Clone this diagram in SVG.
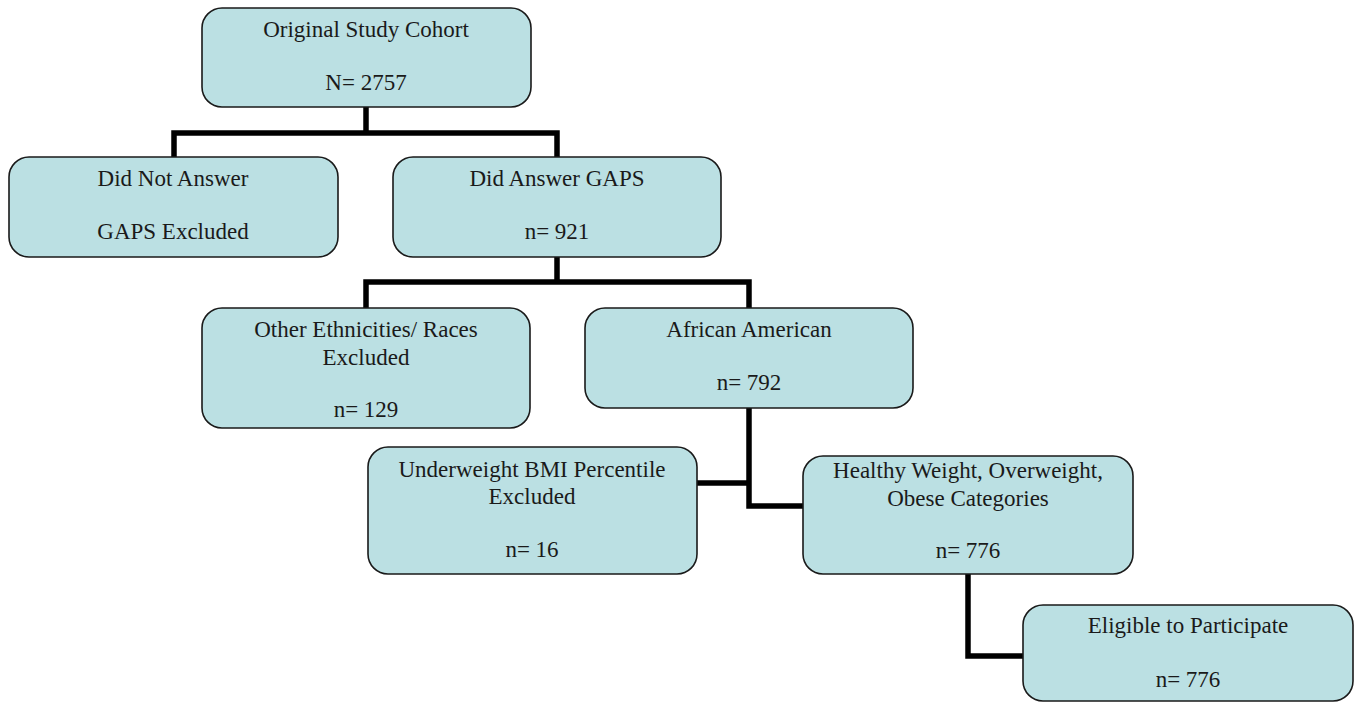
<svg xmlns="http://www.w3.org/2000/svg" width="1360" height="704" viewBox="0 0 1360 704">
<style>
.box{fill:#bbe0e3;stroke:#1a1a1a;stroke-width:1.6}
.t{font-family:"Liberation Serif","Times New Roman",serif;font-size:23px;fill:#1a1a1a;text-anchor:middle}
.c{fill:none;stroke:#000;stroke-width:5.5;stroke-linejoin:miter;stroke-linecap:butt}
</style>
<rect width="1360" height="704" fill="#fff"/>
<g id="connectors">
<path class="c" d="M366 107V133M174 157V133H557V157"/>
<path class="c" d="M557 257V282M366 308V282H749V308"/>
<path class="c" d="M749 408V506H803M697 483H749"/>
<path class="c" d="M968 574V656H1023"/>
</g>
<g id="n1"><rect class="box" x="202" y="8" width="329" height="99" rx="20"/>
<text class="t" x="366" y="37">Original Study Cohort</text><text class="t" x="366" y="90">N= 2757</text></g>
<g id="n2"><rect class="box" x="9" y="157" width="329" height="100" rx="20"/>
<text class="t" x="173" y="186">Did Not Answer</text><text class="t" x="173" y="239">GAPS Excluded</text></g>
<g id="n3"><rect class="box" x="393" y="157" width="328" height="100" rx="20"/>
<text class="t" x="557" y="186">Did Answer GAPS</text><text class="t" x="557" y="239">n= 921</text></g>
<g id="n4"><rect class="box" x="202" y="308" width="328" height="120" rx="20"/>
<text class="t" x="366" y="337">Other Ethnicities/ Races</text><text class="t" x="366" y="365">Excluded</text><text class="t" x="366" y="417">n= 129</text></g>
<g id="n5"><rect class="box" x="585" y="308" width="328" height="100" rx="20"/>
<text class="t" x="749" y="337">African American</text><text class="t" x="749" y="390">n= 792</text></g>
<g id="n6"><rect class="box" x="368" y="447" width="329" height="127" rx="20"/>
<text class="t" x="532" y="477">Underweight BMI Percentile</text><text class="t" x="532" y="504">Excluded</text><text class="t" x="532" y="557">n= 16</text></g>
<g id="n7"><rect class="box" x="803" y="456" width="330" height="118" rx="20"/>
<text class="t" x="968" y="478">Healthy Weight, Overweight,</text><text class="t" x="968" y="506">Obese Categories</text><text class="t" x="968" y="558">n= 776</text></g>
<g id="n8"><rect class="box" x="1023" y="605" width="330" height="96" rx="20"/>
<text class="t" x="1188" y="633">Eligible to Participate</text><text class="t" x="1188" y="687">n= 776</text></g>
</svg>
